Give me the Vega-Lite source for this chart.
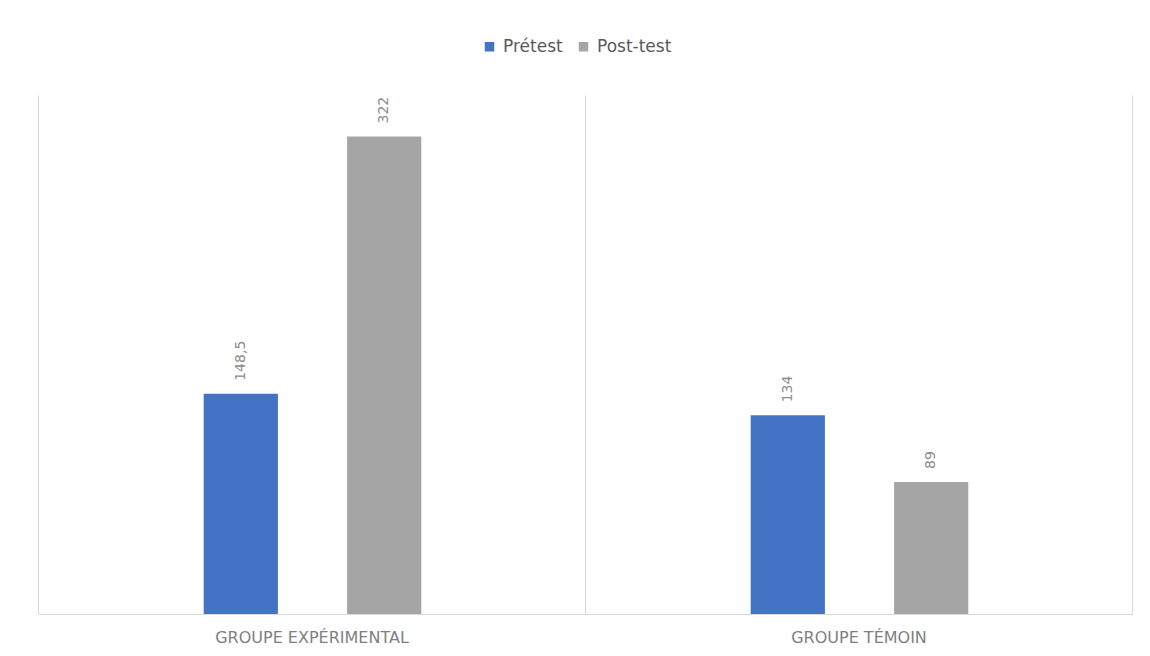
{
  "$schema": "https://vega.github.io/schema/vega-lite/v6.json",
  "width": 1094,
  "height": 519,
  "autosize": {"type": "none"},
  "padding": {"left": 38, "top": 95, "right": 18, "bottom": 42},
  "background": "white",
  "config": {
    "locale": {"number": {"decimal": ",", "thousands": " ", "grouping": [3], "currency": ["", " €"]}},
    "view": {"stroke": null},
    "font": "DejaVu Sans"
  },
  "data": {
    "values": [
      {"groupe": "GROUPE EXPÉRIMENTAL", "serie": "Prétest", "valeur": 148.5},
      {"groupe": "GROUPE EXPÉRIMENTAL", "serie": "Post-test", "valeur": 322},
      {"groupe": "GROUPE TÉMOIN", "serie": "Prétest", "valeur": 134},
      {"groupe": "GROUPE TÉMOIN", "serie": "Post-test", "valeur": 89}
    ]
  },
  "encoding": {
    "x": {
      "field": "groupe",
      "type": "nominal",
      "sort": ["GROUPE EXPÉRIMENTAL", "GROUPE TÉMOIN"],
      "scale": {"paddingInner": 0, "paddingOuter": 0},
      "axis": {
        "title": null,
        "labelAngle": 0,
        "labelFontSize": 16,
        "labelFont": "DejaVu Sans",
        "labelColor": "#7f7f7f",
        "labelPadding": 15,
        "labelLimit": 0,
        "ticks": false,
        "domainColor": "#d9d9d9",
        "domainWidth": 1,
        "grid": true,
        "gridColor": "#d9d9d9",
        "gridWidth": 1,
        "tickBand": "extent"
      }
    },
    "xOffset": {
      "field": "serie",
      "type": "nominal",
      "sort": ["Prétest", "Post-test"],
      "scale": {"paddingInner": 0.4825, "paddingOuter": 0.5, "range": [94, 455]}
    },
    "y": {
      "field": "valeur",
      "type": "quantitative",
      "scale": {"domain": [0, 350], "nice": false},
      "axis": null
    }
  },
  "layer": [
    {
      "mark": {"type": "bar"},
      "encoding": {
        "color": {
          "field": "serie",
          "type": "nominal",
          "sort": ["Prétest", "Post-test"],
          "scale": {"domain": ["Prétest", "Post-test"], "range": ["#4472C4", "#A5A5A5"]},
          "legend": {
            "title": null,
            "orient": "none",
            "legendX": 443,
            "legendY": -57,
            "direction": "horizontal",
            "symbolType": "square",
            "symbolSize": 90,
            "symbolStrokeWidth": 0,
            "labelFontSize": 17,
            "labelFont": "DejaVu Sans",
            "labelColor": "#595959",
            "columnPadding": 12,
            "labelOffset": 5
          }
        }
      }
    },
    {
      "mark": {"type": "text", "angle": 270, "align": "left", "baseline": "middle", "dx": 13, "fontSize": 14, "color": "#8c8c8c"},
      "encoding": {
        "text": {"field": "valeur", "type": "quantitative", "format": ".1~f"}
      }
    }
  ]
}
